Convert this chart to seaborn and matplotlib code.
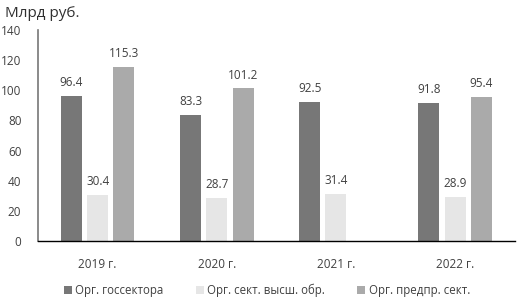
import numpy as np
import pandas as pd
import matplotlib
matplotlib.use("Agg")
import matplotlib.pyplot as plt
import seaborn as sns

years = ["2019 г.", "2020 г.", "2021 г.", "2022 г."]
series_names = ["Орг. госсектора", "Орг. сект. высш. обр.", "Орг. предпр. сект."]
gov = [96.4, 83.3, 92.5, 91.8]
higher_edu = [30.4, 28.7, 31.4, 28.9]
business = [115.3, 101.2, np.nan, 95.4]
colors = ["#777777", "#e6e6e6", "#aaaaaa"]

df = pd.DataFrame({
    "year": years * 3,
    "sector": [series_names[0]] * 4 + [series_names[1]] * 4 + [series_names[2]] * 4,
    "value": gov + higher_edu + business,
})

sns.set_style("white")
plt.rcParams["font.family"] = ["Open Sans", "DejaVu Sans"]
text_color = "#404040"

fig = plt.figure(figsize=(5.29, 3.0), dpi=100)
ax = fig.add_axes([0.072, 0.197, 0.901, 0.703])

sns.barplot(data=df, x="year", y="value", hue="sector", hue_order=series_names,
            order=years, palette=colors, width=0.66, gap=0.2, saturation=1,
            edgecolor="none", errorbar=None, ax=ax)

for c in ax.containers:
    labels = ["" if np.isnan(v) else f"{v:.1f}" for v in c.datavalues]
    ax.bar_label(c, labels=labels, padding=5, fontsize=8.5, color=text_color)

ax.set_ylim(0, 140)
ax.set_yticks(range(0, 141, 20))
ax.set_xlim(-0.5, 3.5)
ax.set_xlabel("")
ax.set_ylabel("")
ax.tick_params(axis="both", length=0, labelsize=8.5, colors=text_color)
ax.tick_params(axis="x", pad=12)
ax.tick_params(axis="y", pad=12)

for side in ["top", "right"]:
    ax.spines[side].set_visible(False)
ax.spines["left"].set_color("#777777")
ax.spines["left"].set_linewidth(1.2)
ax.spines["bottom"].set_color("black")
ax.spines["bottom"].set_linewidth(1.0)

fig.text(0.01, 0.955, "Млрд руб.", fontsize=11, color="#303030", va="center")

ax.legend(loc="center", bbox_to_anchor=(0.48, -0.235), ncol=3, frameon=False,
          fontsize=8.3, handlelength=0.7, handleheight=0.7, handletextpad=0.3,
          columnspacing=2.8, labelcolor=text_color)

fig.savefig("out.png", dpi=100)
